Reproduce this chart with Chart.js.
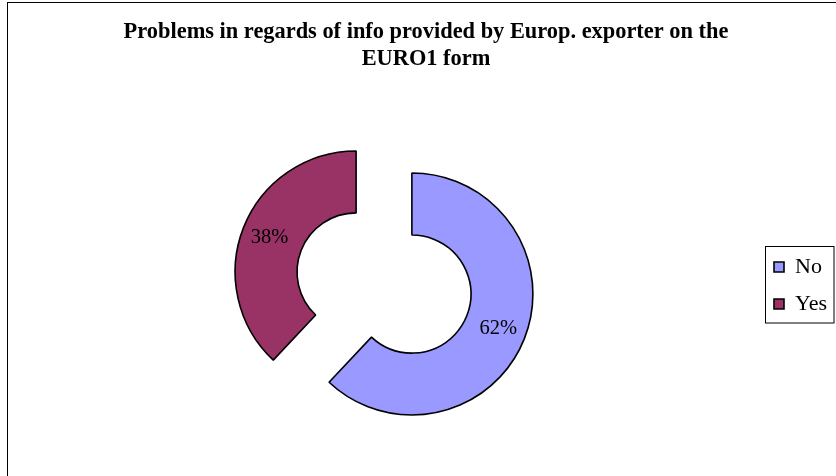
<!DOCTYPE html>
<html>
<head>
<meta charset="utf-8">
<script src="https://cdn.jsdelivr.net/npm/chart.js@4/dist/chart.umd.min.js"></script>
<style>
  html, body { margin: 0; padding: 0; background: #ffffff; }
  canvas { display: block; }
</style>
</head>
<body>
<canvas id="c" width="836" height="476"></canvas>
<script>
const categories = ['No', 'Yes'];
const shares = [62, 38];
const sliceColors = ['#9999FF', '#993366'];
const titleLines = ['Problems in regards of info provided by Europ. exporter on the', 'EURO1 form'];

const SERIF = "'Liberation Serif', 'Times New Roman', serif";
const EXPLODE = 30;

const layoutPlugin = {
  id: 'layoutFix',
  afterLayout(chart) {
    const ca = chart.chartArea;
    ca.left = 268; ca.right = 500; ca.top = 90; ca.bottom = 476;
    ca.width = ca.right - ca.left; ca.height = ca.bottom - ca.top;
    const t = chart.titleBlock;
    if (t) { t.left = 16; t.right = 836; t.width = 820; }
    const lg = chart.legend;
    if (lg) {
      lg.left = 759; lg.right = 836; lg.width = 77;
      lg.top = 231; lg.bottom = 340; lg.height = 109;
    }
  },
  afterDatasetsUpdate(chart) {
    const meta = chart.getDatasetMeta(0);
    meta.data.forEach(el => {
      const half = (el.startAngle + el.endAngle) / 2;
      el.x += Math.cos(half) * EXPLODE;
      el.y += Math.sin(half) * EXPLODE;
    });
  },
  beforeDraw(chart) {
    const ctx = chart.ctx;
    ctx.save();
    ctx.fillStyle = '#ffffff';
    ctx.fillRect(0, 0, chart.width, chart.height);
    ctx.strokeStyle = '#000000';
    ctx.lineWidth = 1;
    ctx.strokeRect(7.5, 2.5, chart.width + 20, chart.height + 20);
    ctx.restore();
  },
  afterDraw(chart) {
    const ctx = chart.ctx;
    ctx.save();
    ctx.strokeStyle = '#000000';
    ctx.lineWidth = 1;
    ctx.strokeRect(765.5, 246.5, 68.5, 76.5);
    // percentage labels
    const meta = chart.getDatasetMeta(0);
    const total = shares.reduce((a, b) => a + b, 0);
    ctx.fillStyle = '#000000';
    ctx.font = "20.5px " + SERIF;
    ctx.textAlign = 'center';
    ctx.textBaseline = 'middle';
    meta.data.forEach((el, i) => {
      const half = (el.startAngle + el.endAngle) / 2;
      const r = (el.innerRadius + el.outerRadius) / 2 + 3;
      const x = el.x + Math.cos(half) * r;
      const y = el.y + Math.sin(half) * r;
      ctx.fillText(Math.round(shares[i] / total * 100) + '%', x, y);
    });
    ctx.restore();
  }
};

new Chart(document.getElementById('c'), {
  type: 'doughnut',
  data: {
    labels: categories,
    datasets: [{
      data: shares,
      backgroundColor: sliceColors,
      borderColor: '#000000',
      borderWidth: 1.6,
      hoverOffset: 0,
      clip: false
    }]
  },
  options: {
    responsive: false,
    animation: false,
    radius: 121,
    cutout: '48.8%',
    layout: { padding: 0 },
    events: [],
    plugins: {
      title: {
        display: true,
        text: titleLines,
        color: '#000000',
        font: { family: SERIF, size: 22.4, weight: 'bold', lineHeight: 1.21 },
        padding: { top: 19, bottom: 17 }
      },
      legend: {
        display: true,
        position: 'right',
        labels: {
          color: '#000000',
          font: { family: SERIF, size: 22 },
          boxWidth: 10,
          boxHeight: 10,
          padding: 15
        }
      },
      tooltip: { enabled: false }
    }
  },
  plugins: [layoutPlugin]
});
</script>
</body>
</html>
